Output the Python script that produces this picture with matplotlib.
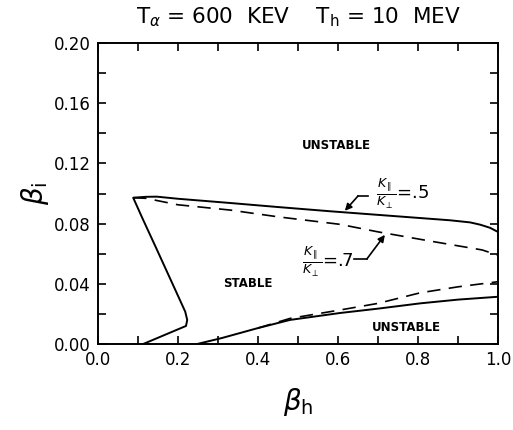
import numpy as np
import matplotlib.pyplot as plt
from matplotlib.ticker import MultipleLocator

# ------------------
# Data (beta_h, beta_i)
# ------------------
# K_par/K_perp = .5 : left branch up to the corner, then the upper boundary
solid_bh = [0.113, 0.220, 0.223, 0.218, 0.188, 0.145, 0.112, 0.088,
            0.12, 0.147, 0.20, 0.33, 0.45, 0.58, 0.70, 0.80, 0.88, 0.93, 0.955, 0.98, 1.00]
solid_bi = [0.000, 0.012, 0.016, 0.0215, 0.039, 0.064, 0.083, 0.0972,
            0.0978, 0.0979, 0.0965, 0.0937, 0.091, 0.0882, 0.0858, 0.0838, 0.0822, 0.0808,
            0.0793, 0.0772, 0.0744]

# K_par/K_perp = .7 : upper boundary (dashed)
dash_bh = [0.088, 0.12, 0.20, 0.33, 0.45, 0.605, 0.70, 0.83, 0.96, 1.00]
dash_bi = [0.0972, 0.0968, 0.0925, 0.089, 0.0845, 0.0795, 0.0745, 0.0684, 0.0625, 0.059]

# lower boundaries
low_solid_bh = [0.248, 0.31, 0.40, 0.48, 0.605, 0.70, 0.805, 0.90, 1.00]
low_solid_bi = [0.000, 0.004, 0.0106, 0.016, 0.0206, 0.0235, 0.027, 0.0295, 0.0314]
low_dash_bh = [0.40, 0.48, 0.605, 0.70, 0.805, 0.90, 1.00]
low_dash_bi = [0.0106, 0.017, 0.0226, 0.027, 0.034, 0.038, 0.0414]

# ------------------
# Figure
# ------------------
fig = plt.figure(figsize=(5.13, 4.30), dpi=100)
ax = fig.add_axes([0.191, 0.2, 0.780, 0.70])

ax.plot(solid_bh, solid_bi, color='black', lw=1.4)
ax.plot(dash_bh, dash_bi, color='black', lw=1.2, dashes=(8, 5))
ax.plot(low_solid_bh, low_solid_bi, color='black', lw=1.4)
ax.plot(low_dash_bh, low_dash_bi, color='black', lw=1.2, dashes=(8, 5))

ax.set_xlim(0, 1.0)
ax.set_ylim(0, 0.20)
ax.xaxis.set_major_locator(MultipleLocator(0.2))
ax.xaxis.set_minor_locator(MultipleLocator(0.1))
ax.yaxis.set_major_locator(MultipleLocator(0.04))
ax.yaxis.set_minor_locator(MultipleLocator(0.02))
ax.xaxis.set_major_formatter(lambda v, p: f'{v:.1f}')
ax.yaxis.set_major_formatter(lambda v, p: f'{v:.2f}')
ax.tick_params(which='both', direction='in', top=True, right=True, width=1.2)
ax.tick_params(which='major', length=6, labelsize=12, pad=5)
ax.tick_params(which='minor', length=6)
for s in ax.spines.values():
    s.set_linewidth(1.4)

ax.set_xlabel(r'$\beta_{\mathrm{h}}$', fontsize=20, labelpad=12)
ax.set_ylabel(r'$\beta_{\mathrm{i}}$', fontsize=20, labelpad=2)
ax.set_title(r'T$_\alpha$ = 600  KEV    T$_\mathrm{h}$ = 10  MEV', fontsize=15.5, pad=14)

# region labels
ax.text(0.595, 0.132, 'UNSTABLE', fontsize=8.5, fontweight='bold', ha='center', va='center')
ax.text(0.375, 0.040, 'STABLE', fontsize=8.5, fontweight='bold', ha='center', va='center')
ax.text(0.77, 0.011, 'UNSTABLE', fontsize=8.5, fontweight='bold', ha='center', va='center')

# curve labels with bent leader arrows
arrow = dict(arrowstyle='-|>', color='black', lw=1.2, mutation_scale=10, shrinkA=0, shrinkB=0)

ax.text(0.695, 0.0995, r'$\frac{K_{\parallel}}{K_{\perp}}$=.5', fontsize=13, ha='left', va='center')
ax.plot([0.675, 0.65], [0.0984, 0.0984], color='black', lw=1.2)
ax.annotate('', xy=(0.617, 0.0885), xytext=(0.65, 0.0984), arrowprops=arrow)

ax.text(0.51, 0.0545, r'$\frac{K_{\parallel}}{K_{\perp}}$=.7', fontsize=13, ha='left', va='center')
ax.plot([0.64, 0.672], [0.0565, 0.0565], color='black', lw=1.2)
ax.annotate('', xy=(0.717, 0.0725), xytext=(0.672, 0.0565), arrowprops=arrow)

fig.savefig('out.png', dpi=100)
